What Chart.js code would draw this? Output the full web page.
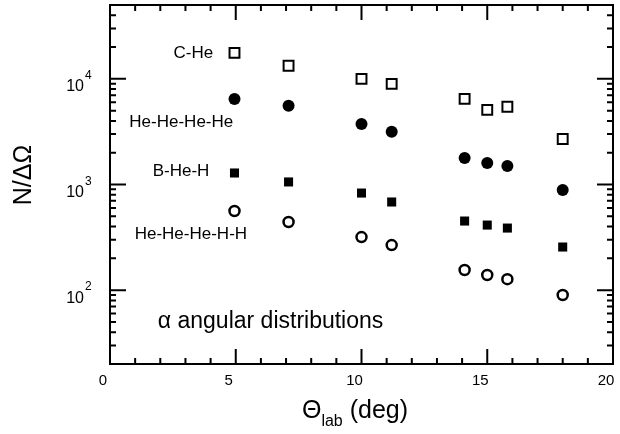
<!DOCTYPE html>
<html>
<head>
<meta charset="UTF-8">
<title>alpha angular distributions</title>
<script src="https://cdn.jsdelivr.net/npm/chart.js"></script>
<style>
  body { margin: 0; background: #fff; }
</style>
</head>
<body>
<canvas id="chart" width="620" height="434"></canvas>
<script>
// angles (deg) and yields
const thetaLab = [4.95, 7.1, 10.0, 11.2, 14.1, 15.0, 15.8, 18.0];
const cHe      = [17600, 13300, 10000, 8970, 6460, 5080, 5440, 2700];
const heHeHeHe = [6460, 5550, 3740, 3150, 1780, 1600, 1500, 887];
const bHeH     = [1285, 1057, 830, 683, 451, 413, 387, 256];
const heHeHeHH = [561, 442, 318, 267, 155, 139, 127, 90];

const xMin = 0, xMax = 20;
const yMin = 20, yMax = 50000;
const yDecades = [100, 1000, 10000];

// text labels inside the plot, in data coordinates
const notes = [
    { text: 'C-He',          x: 4.1,  y: 17600, align: 'right', size: 17 },
    { text: 'He-He-He-He',   x: 4.9,  y: 3870,  align: 'right', size: 17 },
    { text: 'B-He-H',        x: 3.95, y: 1343,  align: 'right', size: 17 },
    { text: 'He-He-He-H-H',  x: 5.45, y: 340,   align: 'right', size: 17 },
    { text: '\u03b1 angular distributions', x: 1.9, y: 50.8, align: 'left', size: 23 }
];

const FONT = '"Liberation Sans", Arial, sans-serif';

function pts(ys) {
    return thetaLab.map((t, i) => ({ x: t, y: ys[i] }));
}

// frame, inward ticks on all four sides, y labels with exponents, axis titles
const frame = {
    id: 'frame',
    afterDraw(chart) {
        const { ctx, chartArea: a, scales: { x, y } } = chart;
        ctx.save();
        ctx.strokeStyle = '#000';
        ctx.lineWidth = 2;
        ctx.strokeRect(a.left, a.top, a.right - a.left, a.bottom - a.top);

        ctx.beginPath();
        for (let v = xMin; v <= xMax; v++) {
            const px = x.getPixelForValue(v);
            const len = v % 5 === 0 ? 15 : 6;
            ctx.moveTo(px, a.bottom); ctx.lineTo(px, a.bottom - len);
            ctx.moveTo(px, a.top);    ctx.lineTo(px, a.top + len);
        }
        for (let d = 10; d <= 10000; d *= 10) {
            for (let m = 1; m < 10; m++) {
                const v = d * m;
                if (v < yMin || v > yMax) continue;
                const py = y.getPixelForValue(v);
                const len = m === 1 ? 16 : 6;
                ctx.moveTo(a.left, py);  ctx.lineTo(a.left + len, py);
                ctx.moveTo(a.right, py); ctx.lineTo(a.right - len, py);
            }
        }
        ctx.stroke();

        ctx.fillStyle = '#000';
        ctx.textBaseline = 'middle';
        yDecades.forEach(v => {
            const py = y.getPixelForValue(v);
            ctx.font = '16px ' + FONT;
            ctx.textAlign = 'right';
            ctx.fillText('10', 84, py + 8);
            ctx.font = '12px ' + FONT;
            ctx.textAlign = 'left';
            ctx.fillText(String(Math.round(Math.log10(v))), 85, py - 3);
        });

        notes.forEach(n => {
            ctx.font = n.size + 'px ' + FONT;
            ctx.textAlign = n.align;
            ctx.fillText(n.text, x.getPixelForValue(n.x), y.getPixelForValue(n.y));
        });

        // y title
        ctx.save();
        ctx.translate(24, 175);
        ctx.rotate(-Math.PI / 2);
        ctx.font = '25px ' + FONT;
        ctx.textAlign = 'center';
        ctx.fillText('N/\u0394\u03a9', 0, 0);
        ctx.restore();

        // x title with subscript
        ctx.textBaseline = 'alphabetic';
        ctx.textAlign = 'left';
        ctx.font = '25px ' + FONT;
        const w1 = ctx.measureText('\u0398').width;
        const w3 = ctx.measureText(' (deg)').width;
        ctx.font = '16px ' + FONT;
        const w2 = ctx.measureText('lab').width;
        let sx = 355 - (w1 + w2 + w3) / 2;
        const base = 418;
        ctx.font = '25px ' + FONT;
        ctx.fillText('\u0398', sx, base);
        ctx.font = '16px ' + FONT;
        ctx.fillText('lab', sx + w1, base + 8);
        ctx.font = '25px ' + FONT;
        ctx.fillText(' (deg)', sx + w1 + w2, base);
        ctx.restore();
    }
};

new Chart(document.getElementById('chart'), {
    type: 'scatter',
    data: {
        datasets: [
            { label: 'C-He', data: pts(cHe), pointStyle: 'rect', pointRadius: 7,
              backgroundColor: '#fff', borderColor: '#000', borderWidth: 2 },
            { label: 'He-He-He-He', data: pts(heHeHeHe), pointStyle: 'circle', pointRadius: 6,
              backgroundColor: '#000', borderColor: '#000', borderWidth: 0 },
            { label: 'B-He-H', data: pts(bHeH), pointStyle: 'rect', pointRadius: 6.4,
              backgroundColor: '#000', borderColor: '#000', borderWidth: 0 },
            { label: 'He-He-He-H-H', data: pts(heHeHeHH), pointStyle: 'circle', pointRadius: 5,
              backgroundColor: '#fff', borderColor: '#000', borderWidth: 2.5 }
        ]
    },
    options: {
        responsive: false,
        animation: false,
        devicePixelRatio: 1,
        layout: { autoPadding: false, padding: { left: 0, right: 7, top: 5, bottom: 0 } },
        plugins: { legend: { display: false }, tooltip: { enabled: false } },
        scales: {
            x: {
                type: 'linear', min: xMin, max: xMax,
                grid: { display: false, drawTicks: false },
                border: { display: false },
                ticks: { stepSize: 5, padding: 8, labelOffset: -7, color: '#000',
                         font: { family: FONT, size: 15 }, maxRotation: 0 },
                afterFit(s) { s.height = 70; s.paddingLeft = 0; s.paddingRight = 0; }
            },
            y: {
                type: 'logarithmic', min: yMin, max: yMax,
                grid: { display: false, drawTicks: false },
                border: { display: false },
                ticks: { display: false },
                afterFit(s) { s.width = 110; s.paddingTop = 0; s.paddingBottom = 0; }
            }
        }
    },
    plugins: [frame]
});
</script>
</body>
</html>
